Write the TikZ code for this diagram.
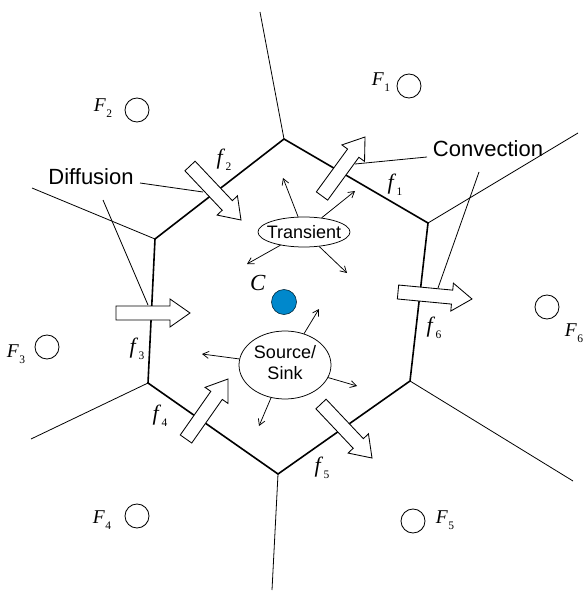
\documentclass[tikz,border=0pt]{standalone}
\usepackage{fontspec}
\setmainfont{Liberation Serif}
\setsansfont{Liberation Sans}
\usetikzlibrary{calc,shapes.geometric,arrows.meta}
\definecolor{dotblue}{RGB}{0,136,204}
\newcommand\symlab[2]{\textit{#1}\kern0.5pt\raisebox{-6pt}{\fontsize{11.5}{11.5}\selectfont #2}}
\newcommand\blockarrow[2]{%
  \coordinate (#2h) at ($(#2)!20pt!(#1)$);
  \draw[barrow] ($(#1)!7pt!90:(#2)$) -- ($(#2h)!7pt!90:(#2)$) -- ($(#2h)!14pt!90:(#2)$) -- (#2)
     -- ($(#2h)!14pt!-90:(#2)$) -- ($(#2h)!7pt!-90:(#2)$) -- ($(#1)!7pt!-90:(#2)$) -- cycle;}
\tikzset{
  cellline/.style={line width=1.6pt, line join=miter},
  thinline/.style={line width=0.8pt},
  leader/.style={line width=0.8pt},
  barrow/.style={draw=black, fill=white, line width=0.85pt, line join=miter},
  small/.style={line width=0.75pt, -{Straight Barb[length=6pt,width=7pt]}},
  nbr/.style={circle, draw, line width=0.85pt, minimum size=24pt, inner sep=0pt},
  flab/.style={font=\fontsize{19.5}{19.5}\selectfont, anchor=base, inner sep=0pt},
  facelab/.style={flab, font=\fontsize{22}{22}\selectfont},
  word/.style={font=\sffamily\fontsize{22}{26}\selectfont, anchor=base, inner sep=0pt},
  bubble/.style={ellipse, draw, line width=0.75pt, inner sep=0pt, font=\sffamily\fontsize{18}{21}\selectfont},
}
\begin{document}
\begin{tikzpicture}[x=1pt,y=-1pt]
\useasboundingbox (0,0) rectangle (582,601);
% cell vertices
\coordinate (V1) at (284,139);
\coordinate (V2) at (155,239);
\coordinate (V3) at (148,383);
\coordinate (V4) at (278,474);
\coordinate (V5) at (410,381);
\coordinate (V6) at (428,223);
% outer ends
\coordinate (O1) at (260,12);
\coordinate (O2) at (32,188);
\coordinate (O3) at (31,439);
\coordinate (O4) at (272,590);
\coordinate (O5) at (573,481);
\coordinate (O6) at (578,133);
\draw[thinline] (V1) -- (O1);
\draw[thinline] (V2) -- (O2);
\draw[thinline] (V3) -- (O3);
\draw[thinline] (V4) -- (O4);
\draw[thinline] (V5) -- (O5);
\draw[thinline] (V6) -- (O6);
\draw[cellline] (V1) -- (V6) -- (V5) -- (V4) -- (V3) -- (V2) -- cycle;

% labels with leaders
\node[word] (diff) at (91,185) {Diffusion};
\node[word] (conv) at (488,157) {Convection};
\coordinate (d1s) at (140,183);
\coordinate (d1e) at (203,192);
\coordinate (d2s) at (103,200);
\coordinate (d2e) at (148,305);
\coordinate (c1s) at (427,157);
\coordinate (c1e) at (355,164);
\coordinate (c2s) at (479,172);
\coordinate (c2e) at (438,288);
\draw[leader] (d1s) -- (d1e);
\draw[leader] (d2s) -- (d2e);
\draw[leader] (c1s) -- (c1e);
\draw[leader] (c2s) -- (c2e);

% block arrows
\coordinate (a2t) at (190,166); \coordinate (a2) at (241,220);
\coordinate (a1t) at (322,196); \coordinate (a1) at (365,137);
\coordinate (a3t) at (116,313); \coordinate (a3) at (190,313);
\coordinate (a6t) at (398,292); \coordinate (a6) at (472,299);
\coordinate (a4t) at (186,439); \coordinate (a4) at (228,379);
\coordinate (a5t) at (321,404); \coordinate (a5) at (372,458);
\blockarrow{a2t}{a2}
\blockarrow{a1t}{a1}
\blockarrow{a3t}{a3}
\blockarrow{a6t}{a6}
\blockarrow{a4t}{a4}
\blockarrow{a5t}{a5}

% face labels
\node[facelab] (lf1) at (395,190) {\symlab{f}{1}};
\node[facelab] (lf2) at (224,165) {\symlab{f}{2}};
\node[facelab] (lf3) at (137,353) {\symlab{f}{3}};
\node[facelab] (lf4) at (160,420) {\symlab{f}{4}};
\node[facelab] (lf5) at (322,472) {\symlab{f}{5}};
\node[facelab] (lf6) at (434,332) {\symlab{f}{6}};

% neighbour cells
\node[nbr] (F1) at (409,86) {};
\node[nbr] (F2) at (137,110) {};
\node[nbr] (F3) at (47,347) {};
\node[nbr] (F4) at (137,516) {};
\node[nbr] (F5) at (413,521) {};
\node[nbr] (F6) at (547,307) {};
\node[flab] (lF1) at (381,86) {\symlab{F}{1}};
\node[flab] (lF2) at (103,112) {\symlab{F}{2}};
\node[flab] (lF3) at (16,357) {\symlab{F}{3}};
\node[flab] (lF4) at (102,523) {\symlab{F}{4}};
\node[flab] (lF5) at (445,523) {\symlab{F}{5}};
\node[flab] (lF6) at (574,336) {\symlab{F}{6}};

% centre
\node[circle, fill=dotblue, draw=black!70!dotblue, line width=0.6pt, minimum size=25pt, inner sep=0pt] (C) at (284,302) {};
\node[flab, font=\fontsize{23}{23}\selectfont] (lC) at (258,290) {\textit{C}};

% transient
\node[bubble, minimum width=92pt, minimum height=30pt] (tr) at (304,232) {\makebox[0pt]{Transient}};
\coordinate (t1) at (283,178);
\coordinate (t2) at (355,191);
\coordinate (t3) at (247,264);
\coordinate (t4) at (347,273);
\draw[small] (tr) -- (t1);
\draw[small] (tr) -- (t2);
\draw[small] (tr) -- (t3);
\draw[small] (tr) -- (t4);

% source/sink
\node[bubble, minimum width=92pt, minimum height=68pt] (ss) at (285,365) {\makebox[0pt]{\begin{tabular}{@{}c@{}}Source/\\Sink\end{tabular}}};
\coordinate (s1) at (319,309);
\coordinate (s2) at (202,354);
\coordinate (s3) at (357,386);
\coordinate (s4) at (259,426);
\draw[small] (ss) -- (s1);
\draw[small] (ss) -- (s2);
\draw[small] (ss) -- (s3);
\draw[small] (ss) -- (s4);
\end{tikzpicture}
\end{document}
